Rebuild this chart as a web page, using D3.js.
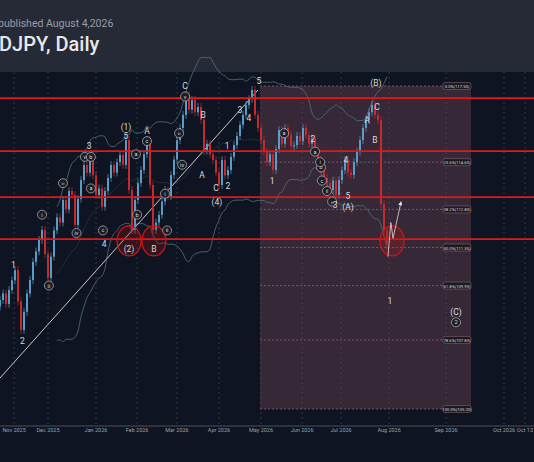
<!DOCTYPE html>
<html><head><meta charset="utf-8">
<script src="https://cdn.jsdelivr.net/npm/d3@7"></script>
<style>body{margin:0;background:#0e1421;font-family:Roboto,"Noto Sans",sans-serif}</style>
</head><body><svg id="c" width="534" height="462"></svg>
<script>
// daily closes (index = trading day from late Oct 2025)
const closes = [109.35,109.6,109.2,109.73,110.1,110.49,109.3,108.21,108.9,109.6,110.11,110.8,111.2,111.64,112.02,111.1,110.19,111.0,112.0,112.5,
112.3,113.16,112.8,113.5,113.35,112.21,113.2,113.92,114.49,114.2,114.87,114.1,113.35,113.6,112.9,113.5,114.0,114.49,114.2,114.6,
114.87,114.5,115.44,113.54,112.02,113.16,113.8,114.3,114.9,115.44,113.73,112.02,112.3,112.59,113.1,113.54,113.3,114.11,114.7,115.44,
115.9,116.4,117.16,116.6,116.97,116.5,116.7,116.21,115.06,115.3,114.9,114.68,114.2,113.73,114.68,114.1,114.3,114.8,115.25,115.6,
116.02,116.4,116.78,117.0,117.35,116.4,115.9,115.44,115.0,114.6,114.9,114.3,115.1,115.82,115.3,115.9,115.63,115.2,115.25,115.6,
115.4,115.9,115.63,115.3,115.5,115.06,114.7,114.3,114.0,113.8,113.54,113.9,113.35,113.92,114.3,114.68,114.2,114.11,114.6,115.0,
115.44,115.9,116.21,116.5,116.78,116.4,116.2,113.0,112.0,111.5];
const firstOpen = 109.1;
const fibPct = ["0.0%","23.6%","38.2%","50.0%","61.8%","78.6%","100.0%"];
const fibPrice = [117.50,114.60,112.80,111.35,109.90,107.83,105.20];
const redLevels = [117.04,115.02,113.27,111.67];
const monthLabels = ["Nov 2025","Dec 2025","Jan 2026","Feb 2026","Mar 2026","Apr 2026","May 2026","Jun 2026","Jul 2026","Aug 2026","Sep 2026","Oct 2026","Oct 13"];
const monthIdx = [4.7,16,32,45.7,59,73,87,100.7,113.7,129.7,148.7,168,175];
const trendLine = [[0,106.38],[86,117.35]];
const circles = [[43,111.6],[51.3,111.6],[130.7,111.6]];
const waves = [
 [4.5,110.7,"1",0],[7.5,107.8,"2",0],[14,112.6,"i",1],[16.3,109.9,"ii",1],[21,113.8,"iii",1],[25.5,111.9,"iv",1],
 [29.7,115.2,"3",0],[28.3,114.8,"v",1],[30.3,114.8,"b",1],[30.3,113.6,"a",1],[34.3,112.0,"c",1],[34.7,111.5,"4",0],
 [42,115.6,"5",0],[42,115.95,"(1)",0],[43,111.3,"(2)",0],[45.3,114.9,"a",1],[45.7,112.6,"b",1],[49,115.4,"c",1],[49,115.8,"A",0],
 [51.3,111.3,"B",0],[55,113.4,"i",1],[55.7,112.0,"ii",1],[59.7,115.7,"iii",1],[60.7,114.5,"iv",1],[61.7,117.1,"v",1],[61.7,117.5,"C",0],
 [67.7,116.4,"B",0],[67.3,114.1,"A",0],[72,113.6,"C",0],[72.3,113.1,"(4)",0],[76,113.7,"2",0],[75.7,115.2,"1",0],[80,116.6,"3",0],[83,116.3,"4",0],[86.3,117.7,"5",0],
 [90.7,113.9,"1",0],[94.7,115.7,"a",1],[104.3,115.5,"2",0],[105,115.0,"a",1],[107,114.4,"b",1],[107.3,113.9,"c",1],[106.7,114.6,"i",1],
 [109,113.5,"ii",1],[110.7,113.1,"iii",1],[111.7,112.95,"3",0],[115.3,114.7,"4",0],[116,113.3,"5",0],[116,112.9,"(A)",0],
 [122.3,116.2,"A",0],[125,115.45,"B",0],[125.7,116.7,"C",0],[125.3,117.6,"(B)",0],[130,109.3,"1",0],[152,108.9,"(C)",0],[152,108.5,"2",1]
];

const svg = d3.select("#c");
const W = 534, topY = 72, bot = 425;
const x = d3.scaleLinear().domain([0,130]).range([0,390]);
const y = d3.scaleLinear().domain([117.5,105.2]).range([86,409]);

svg.append("rect").attr("width",W).attr("height",topY).attr("fill","#262a36");
svg.append("text").attr("x",-2).attr("y",27).attr("fill","#9a9ca6").attr("font-size",10.5).text("published August 4,2026");
svg.append("text").attr("x",-1).attr("y",51).attr("fill","#e8e8ec").attr("font-size",20).attr("font-weight",500).text("DJPY, Daily");

// month grid
svg.selectAll(".vg").data(monthIdx).enter().append("line")
  .attr("x1",d=>x(d)).attr("x2",d=>x(d)).attr("y1",topY).attr("y2",bot)
  .attr("stroke","#3a4250").attr("stroke-dasharray","2,3").attr("stroke-width",0.8);

// fib box
svg.append("rect").attr("x",x(86.7)).attr("y",y(fibPrice[0])).attr("width",x(157)-x(86.7))
  .attr("height",y(fibPrice[6])-y(fibPrice[0])).attr("fill","rgba(110,70,85,0.42)");
fibPrice.forEach((p,i)=>{
  svg.append("line").attr("x1",x(86.7)).attr("x2",x(157)).attr("y1",y(p)).attr("y2",y(p))
    .attr("stroke","#a06a78").attr("stroke-dasharray","2,2").attr("stroke-width",0.7);
  const t = fibPct[i]+"("+p.toFixed(2)+")";
  const g = svg.append("g").attr("transform",`translate(${x(157)},${y(p)})`);
  g.append("rect").attr("x",-28).attr("y",-3.5).attr("width",28).attr("height",7).attr("rx",2).attr("fill","#1a1a22").attr("stroke","#a06a78").attr("stroke-width",0.5);
  g.append("text").attr("x",-14).attr("y",2).attr("text-anchor","middle").attr("font-size",4.2).attr("fill","#ddd").text(t);
});

// bollinger bands
const n=20, mid=[], up=[], lo=[];
closes.forEach((c,i)=>{ if(i<n-1) return; const s=closes.slice(i-n+1,i+1); const m=d3.mean(s), sd=d3.deviation(s);
  mid.push([i,m]); up.push([i,m+2.2*sd]); lo.push([i,m-2.2*sd]); });
const ln = d3.line().x(d=>x(d[0])).y(d=>y(d[1])).curve(d3.curveMonotoneX);
[up,lo].forEach(b=>svg.append("path").attr("d",ln(b)).attr("fill","none").attr("stroke","#4f7480").attr("stroke-width",0.8));
svg.append("path").attr("d",ln(mid)).attr("fill","none").attr("stroke","#2c3e48").attr("stroke-width",0.6);

// trend line
svg.append("line").attr("x1",x(trendLine[0][0])).attr("y1",y(trendLine[0][1])).attr("x2",x(trendLine[1][0])).attr("y2",y(trendLine[1][1]))
  .attr("stroke","#c8c8c8").attr("stroke-width",1);

// candles
closes.forEach((c,i)=>{
  const o = i? closes[i-1] : firstOpen;
  const col = c>=o ? "#5a9cc5" : "#c42a2e";
  const hi = Math.max(o,c)+0.15, lw = Math.min(o,c)-0.15;
  svg.append("line").attr("x1",x(i)).attr("x2",x(i)).attr("y1",y(hi)).attr("y2",y(lw)).attr("stroke",col).attr("stroke-width",0.7);
  svg.append("rect").attr("x",x(i)-1).attr("width",2).attr("y",y(Math.max(o,c))).attr("height",Math.max(1,y(Math.min(o,c))-y(Math.max(o,c)))).attr("fill",col);
});

// red levels
redLevels.forEach(p=>svg.append("line").attr("x1",0).attr("x2",W).attr("y1",y(p)).attr("y2",y(p)).attr("stroke","#e01818").attr("stroke-width",1.6));

// circles
circles.forEach(d=>svg.append("ellipse").attr("cx",x(d[0])).attr("cy",y(d[1])).attr("rx",12).attr("ry",15)
  .attr("fill","rgba(200,20,20,0.22)").attr("stroke","#d01818").attr("stroke-width",1.2));

// arrow
svg.append("path").attr("d",`M${x(129.3)},${y(111.0)} L${x(130.3)},${y(112.3)} L${x(131)},${y(111.7)} L${x(133.7)},${y(113.1)}`)
  .attr("fill","none").attr("stroke","#ddd").attr("stroke-width",0.8);
svg.append("path").attr("d",`M${x(133.7)},${y(113.1)} l-3,3 l4,1 z`).attr("fill","#eee");

// wave labels
waves.forEach(d=>{
  const g = svg.append("g").attr("transform",`translate(${x(d[0])},${y(d[1])})`);
  if(d[3]) { g.append("circle").attr("r",4.5).attr("fill","#1a1e28").attr("stroke","#bbb").attr("stroke-width",0.7);
    g.append("text").attr("y",2).attr("text-anchor","middle").attr("font-size",d[2].length>2?4:5.5).attr("fill","#ddd").text(d[2]); }
  else g.append("text").attr("y",3).attr("text-anchor","middle").attr("font-size",8.5).attr("fill","#d8d8d8").text(d[2]);
});

// bottom axis
svg.append("rect").attr("y",bot).attr("width",W).attr("height",462-bot).attr("fill","#0e1421");
svg.append("line").attr("x1",0).attr("x2",W).attr("y1",bot+1).attr("y2",bot+1).attr("stroke","#4a505c");
monthLabels.forEach((m,i)=>svg.append("text").attr("x",x(monthIdx[i])).attr("y",bot+7).attr("text-anchor","middle")
  .attr("font-size",5.5).attr("fill","#9aa0aa").text(m));
</script></body></html>
